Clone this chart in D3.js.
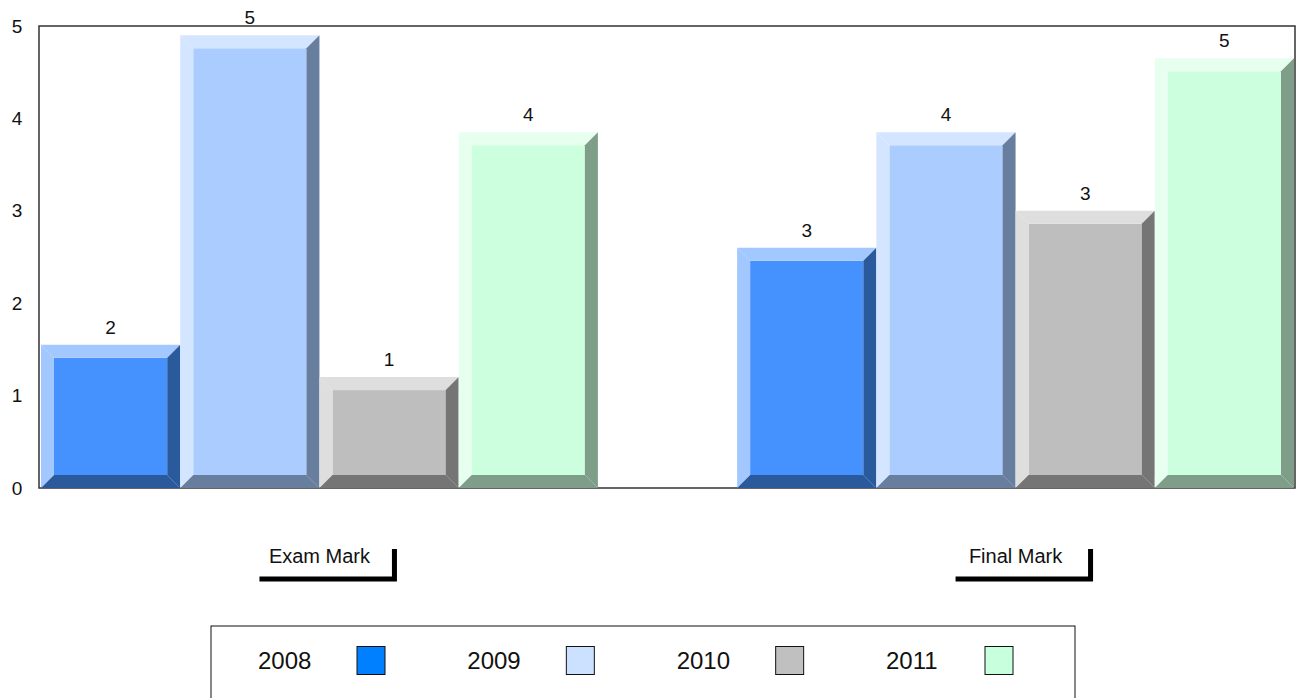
<!DOCTYPE html>
<html>
<head>
<meta charset="utf-8">
<script src="https://cdn.jsdelivr.net/npm/d3@7"></script>
<style>
  body { margin: 0; background: #fff; }
  text { font-family: "Liberation Sans", Arial, sans-serif; fill: #111; }
</style>
</head>
<body>
<svg class="bar-chart-svg"></svg>
<script>
// chart values
const categories = ['Exam Mark', 'Final Mark']
const years = ['2008', '2009', '2010', '2011']
const examValues = [1.55, 4.9, 1.2, 3.85]
const finalValues = [2.6, 3.85, 3.0, 4.65]
const yTicks = [0, 1, 2, 3, 4, 5]

// face / light / dark bevel colours per year, and legend swatch colours
const faceColors = ['#4592ff', '#aaccff', '#bebebe', '#ccffdd']
const lightColors = ['#a2c8ff', '#d4e6ff', '#dedede', '#e6ffee']
const darkColors = ['#2a5a9c', '#687e9e', '#757575', '#7e9e89']
const legendColors = ['#0080ff', '#cce0ff', '#c0c0c0', '#c8ffdc']

const width = 1300
const height = 698
const plot = { left: 39, right: 1295, top: 26, bottom: 488 }
const bevel = 13

const svg = d3.select('.bar-chart-svg')
  .attr('width', width)
  .attr('height', height)

const data = categories.map((c, i) => ({
  category: c,
  values: (i === 0 ? examValues : finalValues).map((v, j) => ({ year: years[j], value: v, idx: j }))
}))

const x0 = d3.scaleBand()
  .domain(categories)
  .range([plot.left + 2, plot.right - 1])
  .paddingInner(0.2)
  .paddingOuter(0)

const x1 = d3.scaleBand()
  .domain(years)
  .range([0, x0.bandwidth()])

const y = d3.scaleLinear()
  .domain([0, 5])
  .range([plot.bottom, plot.top])

// frame
svg.append('rect')
  .attr('x', plot.left)
  .attr('y', plot.top)
  .attr('width', plot.right - plot.left)
  .attr('height', plot.bottom - plot.top)
  .attr('fill', 'none')
  .attr('stroke', '#333')
  .attr('stroke-width', 1.5)

// y tick labels
svg.append('g').attr('class', 'y-ticks')
  .selectAll('text')
  .data(yTicks)
  .join('text')
  .attr('x', 17)
  .attr('y', d => y(d))
  .attr('dy', '0.35em')
  .attr('text-anchor', 'middle')
  .attr('font-size', 19)
  .text(d => d)

function bevelPolys(x0p, x1p, y0p, y1p, b) {
  return {
    top: [[x0p, y0p], [x1p, y0p], [x1p - b, y0p + b], [x0p + b, y0p + b]],
    left: [[x0p, y0p], [x0p + b, y0p + b], [x0p + b, y1p - b], [x0p, y1p]],
    right: [[x1p, y0p], [x1p, y1p], [x1p - b, y1p - b], [x1p - b, y0p + b]],
    bottom: [[x0p, y1p], [x1p, y1p], [x1p - b, y1p - b], [x0p + b, y1p - b]]
  }
}

const groups = svg.append('g').attr('class', 'bars')
  .selectAll('g')
  .data(data)
  .join('g')
  .attr('transform', d => 'translate(' + x0(d.category) + ',0)')

groups.selectAll('g.bar')
  .data(d => d.values)
  .join('g')
  .attr('class', 'bar')
  .each(function(d) {
    const g = d3.select(this)
    const xa = x1(d.year)
    const xb = xa + x1.bandwidth()
    const ya = y(d.value)
    const yb = y(0)
    const p = bevelPolys(xa, xb, ya, yb, bevel)
    const pts = arr => arr.map(q => q.join(',')).join(' ')
    g.append('rect')
      .attr('x', xa + bevel)
      .attr('y', ya + bevel)
      .attr('width', xb - xa - 2 * bevel)
      .attr('height', Math.max(0, yb - ya - 2 * bevel))
      .attr('fill', faceColors[d.idx])
    g.append('polygon').attr('points', pts(p.top)).attr('fill', lightColors[d.idx])
    g.append('polygon').attr('points', pts(p.left)).attr('fill', lightColors[d.idx])
    g.append('polygon').attr('points', pts(p.right)).attr('fill', darkColors[d.idx])
    g.append('polygon').attr('points', pts(p.bottom)).attr('fill', darkColors[d.idx])
    // value label
    g.append('text')
      .attr('x', (xa + xb) / 2)
      .attr('y', ya - 11)
      .attr('text-anchor', 'middle')
      .attr('font-size', 19)
      .text(Math.round(d.value))
  })

// category labels with bracket
const catLabels = svg.append('g').attr('class', 'category-labels')
categories.forEach(c => {
  const cx = x0(c) + x0.bandwidth() / 2
  const g = catLabels.append('g')
  g.append('text')
    .attr('x', cx)
    .attr('y', 563)
    .attr('text-anchor', 'middle')
    .attr('font-size', 20)
    .text(c)
  g.append('path')
    .attr('d', 'M' + (cx - 60) + ',579 H' + (cx + 75) + ' V549')
    .attr('fill', 'none')
    .attr('stroke', '#000')
    .attr('stroke-width', 5)
})

// legend
const legend = svg.append('g').attr('class', 'legend')
legend.append('rect')
  .attr('x', 211)
  .attr('y', 626)
  .attr('width', 864)
  .attr('height', 90)
  .attr('fill', 'none')
  .attr('stroke', '#111')
  .attr('stroke-width', 1)

const legendX = d3.scalePoint()
  .domain(years)
  .range([258, 886])

legend.selectAll('text')
  .data(years)
  .join('text')
  .attr('x', d => legendX(d))
  .attr('y', 661)
  .attr('dy', '0.35em')
  .attr('font-size', 24)
  .text(d => d)

legend.selectAll('rect.swatch')
  .data(years)
  .join('rect')
  .attr('class', 'swatch')
  .attr('x', d => legendX(d) + 99)
  .attr('y', 646.5)
  .attr('width', 28)
  .attr('height', 28)
  .attr('fill', (d, i) => legendColors[i])
  .attr('stroke', '#111')
  .attr('stroke-width', 1)
</script>
</body>
</html>
